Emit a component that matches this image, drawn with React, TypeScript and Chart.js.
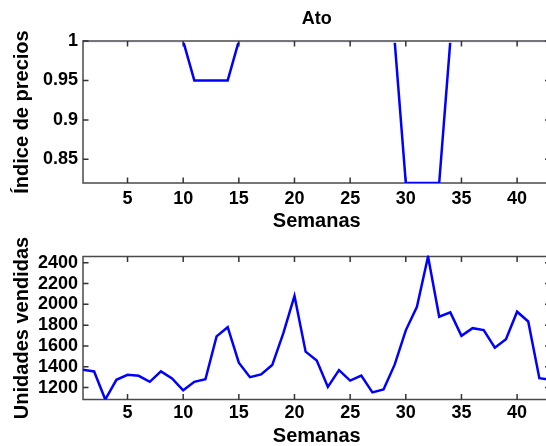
import React, { useEffect, useRef } from "react";
import { Chart, registerables } from "chart.js";

Chart.register(...registerables);

// ---- data ----
const weeks = [
  1, 2, 3, 4, 5, 6, 7, 8, 9, 10, 11, 12, 13, 14, 15, 16, 17, 18, 19, 20, 21, 22,
  23, 24, 25, 26, 27, 28, 29, 30, 31, 32, 33, 34, 35, 36, 37, 38, 39, 40, 41, 42, 43,
];
const priceIndex = [
  1, 1, 1, 1, 1, 1, 1, 1, 1, 1, 0.95, 0.95, 0.95, 0.95, 1, 1, 1, 1, 1, 1, 1, 1,
  1, 1, 1, 1, 1, 1, 1, 0.82, 0.82, 0.82, 0.82, 1, 1, 1, 1, 1, 1, 1, 1, 1, 1,
];
const unitsSold = [
  1370, 1355, 1085, 1274, 1322, 1313, 1255, 1355, 1287, 1174, 1255, 1280, 1692, 1780,
  1439, 1300, 1326, 1416, 1723, 2081, 1545, 1460, 1206, 1368, 1267, 1315, 1153, 1182,
  1420, 1750, 1977, 2460, 1881, 1923, 1697, 1771, 1753, 1583, 1664, 1929, 1835, 1290, 1276,
];
const weekTicks = [5, 10, 15, 20, 25, 30, 35, 40];
const priceTicks = [0.85, 0.9, 0.95, 1];
const priceTickLabels = ["0.85", "0.9", "0.95", "1"];
const unitTicks = [1200, 1400, 1600, 1800, 2000, 2200, 2400];
const unitTickLabels = ["1200", "1400", "1600", "1800", "2000", "2200", "2400"];
const weekRange = [1, 43];
const priceRange = [0.82, 1];
const unitRange = [1085, 2460];
const chartTitle = "Ato";
const xAxisTitle = "Semanas";
const priceAxisTitle = "Índice de precios";
const unitAxisTitle = "Unidades vendidas";

const FONT = "'Liberation Sans', Arial, Helvetica, sans-serif";

function makeFramePlugin(clipTop: number) {
  return {
    id: "matlabFrame",
    beforeDatasetsDraw(chart: any) {
      const { ctx, chartArea: a, scales } = chart;
      ctx.save();
      ctx.strokeStyle = "#4a4a4a";
      ctx.lineWidth = 1.5;
      ctx.strokeRect(a.left, a.top, a.right - a.left, a.bottom - a.top);
      ctx.strokeStyle = "#333";
      ctx.lineWidth = 1.5;
      const len = 5.5;
      ctx.beginPath();
      for (const t of scales.x.ticks) {
        const x = scales.x.getPixelForValue(t.value);
        ctx.moveTo(x, a.bottom);
        ctx.lineTo(x, a.bottom - len);
        ctx.moveTo(x, a.top);
        ctx.lineTo(x, a.top + len);
      }
      for (const t of scales.y.ticks) {
        const y = scales.y.getPixelForValue(t.value);
        ctx.moveTo(a.left, y);
        ctx.lineTo(a.left + len, y);
        ctx.moveTo(a.right, y);
        ctx.lineTo(a.right - len, y);
      }
      ctx.stroke();
      ctx.restore();
    },
    beforeDatasetDraw(chart: any) {
      const { ctx, chartArea: a } = chart;
      ctx.save();
      ctx.beginPath();
      ctx.rect(a.left - 3, a.top + clipTop, a.right - a.left + 6, a.bottom - a.top - clipTop + 3);
      ctx.clip();
    },
    afterDatasetDraw(chart: any) {
      chart.ctx.restore();
    },
  };
}

type PanelSpec = {
  values: number[];
  yRange: number[];
  yTicks: number[];
  yTickLabels: string[];
  yTitle: string;
  title?: string;
  padTop: number;
  xAxisHeight: number;
  xTickPad: number;
  xTitlePadBottom: number;
  clipTop: number;
};

function makeConfig(p: PanelSpec): any {
  return {
    type: "line",
    data: {
      datasets: [
        {
          data: weeks.map((w, i) => ({ x: w, y: p.values[i] })),
          borderColor: "#0000ff",
          borderWidth: 2.5,
          pointRadius: 0,
          tension: 0,
          fill: false,
          clip: { left: 0, top: 2, right: 0, bottom: 0 },
        },
      ],
    },
    options: {
      responsive: false,
      animation: false,
      layout: { padding: { top: p.title ? 0 : p.padTop, right: 9.5, left: 0, bottom: 0 } },
      plugins: {
        legend: { display: false },
        tooltip: { enabled: false },
        title: p.title
          ? {
              display: true,
              text: p.title,
              fullSize: false,
              color: "#000",
              font: { family: FONT, size: 18, weight: "bold", lineHeight: 1 },
              padding: { top: 10, bottom: p.padTop - 28 },
            }
          : { display: false },
      },
      scales: {
        x: {
          type: "linear",
          min: weekRange[0],
          max: weekRange[1],
          grid: { display: false, drawTicks: false },
          border: { display: false },
          afterBuildTicks: (s: any) => {
            s.ticks = weekTicks.map((v) => ({ value: v }));
          },
          afterFit: (s: any) => {
            s.height = p.xAxisHeight;
          },
          ticks: {
            autoSkip: false,
            maxRotation: 0,
            color: "#000",
            padding: p.xTickPad,
            font: { family: FONT, size: 18, weight: "bold", lineHeight: 1 },
            callback: (v: number) => String(v),
          },
          title: {
            display: true,
            text: xAxisTitle,
            color: "#000",
            font: { family: FONT, size: 20, weight: "bold", lineHeight: 1 },
            padding: { top: 0, bottom: p.xTitlePadBottom },
          },
        },
        y: {
          type: "linear",
          min: p.yRange[0],
          max: p.yRange[1],
          grid: { display: false, drawTicks: false },
          border: { display: false },
          afterBuildTicks: (s: any) => {
            s.ticks = p.yTicks.map((v) => ({ value: v }));
          },
          afterFit: (s: any) => {
            s.width = 83;
          },
          ticks: {
            autoSkip: false,
            color: "#000",
            padding: 5,
            font: { family: FONT, size: 18, weight: "bold", lineHeight: 1 },
            callback: (v: number) => {
              const i = p.yTicks.indexOf(v);
              return i >= 0 ? p.yTickLabels[i] : "";
            },
          },
          title: {
            display: true,
            text: p.yTitle,
            color: "#000",
            font: { family: FONT, size: 20, weight: "bold", lineHeight: 1 },
            padding: { top: 12, bottom: 0 },
          },
        },
      },
    },
    plugins: [makeFramePlugin(p.clipTop)],
  };
}

function Panel({ spec, top, height }: { spec: PanelSpec; top: number; height: number }) {
  const ref = useRef<HTMLCanvasElement | null>(null);
  useEffect(() => {
    if (!ref.current) return;
    const chart = new Chart(ref.current, makeConfig(spec));
    return () => chart.destroy();
  }, []);
  return (
    <canvas
      ref={ref}
      width={560}
      height={height}
      style={{ position: "absolute", left: 0, top, width: 560, height }}
    />
  );
}

const topSpec: PanelSpec = {
  values: priceIndex,
  yRange: priceRange,
  yTicks: priceTicks,
  yTickLabels: priceTickLabels,
  yTitle: priceAxisTitle,
  title: chartTitle,
  padTop: 41,
  xAxisHeight: 49,
  xTickPad: 7.5,
  xTitlePadBottom: 1,
  clipTop: 1.8,
};

const bottomSpec: PanelSpec = {
  values: unitsSold,
  yRange: unitRange,
  yTicks: unitTicks,
  yTickLabels: unitTickLabels,
  yTitle: unitAxisTitle,
  padTop: 24.5,
  xAxisHeight: 46.5,
  xTickPad: 4.5,
  xTitlePadBottom: 0,
  clipTop: -1,
};

export default function App() {
  return (
    <div
      style={{
        position: "fixed",
        left: 0,
        top: 0,
        width: 546,
        height: 446,
        overflow: "hidden",
        background: "#fff",
      }}
    >
      <Panel spec={topSpec} top={0} height={232} />
      <Panel spec={bottomSpec} top={232} height={214} />
    </div>
  );
}
